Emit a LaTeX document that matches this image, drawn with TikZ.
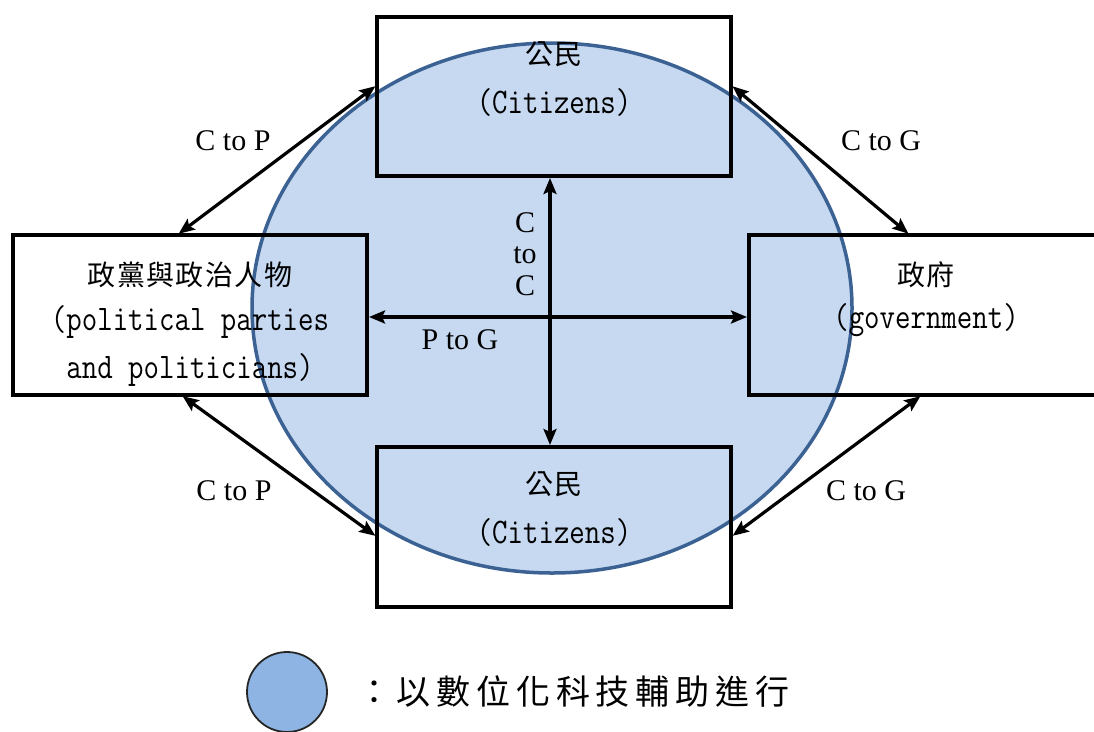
\documentclass[tikz,border=0pt]{standalone}
\usepackage{fontspec}
\usepackage{graphicx}
\setmainfont{Liberation Serif}
\newfontfamily\cjk[LetterSpace=5]{Noto Sans CJK TC}
\newfontfamily\cjkbig[LetterSpace=17]{Noto Sans CJK TC}
\newcommand\tallmono[1]{\scalebox{1}[1.2]{#1}}
\usetikzlibrary{shapes.geometric,arrows.meta,calc}
\definecolor{zonefill}{HTML}{C6D9F1}
\definecolor{zoneline}{HTML}{3C6294}
\definecolor{legfill}{HTML}{8EB4E3}
\definecolor{legline}{HTML}{262626}
\tikzset{
  boxnode/.style={draw=black, line width=4.5pt, minimum width=354pt, minimum height=160pt, inner sep=0pt, outer sep=0pt},
  arr/.style={line width=3.2pt, {Stealth[length=16pt,width=13pt,inset=3pt]}-{Stealth[length=16pt,width=13pt,inset=3pt]}, shorten <=2pt, shorten >=2pt},
  cjklbl/.style={font=\cjk\fontsize{28}{30}\selectfont, inner sep=0pt},
  monolbl/.style={font=\ttfamily\fontsize{30}{32}\selectfont, inner sep=0pt},
  edgelbl/.style={font=\fontsize{30}{32}\selectfont, inner sep=0pt},
}
\begin{document}
\begin{tikzpicture}[x=1pt,y=-1pt]
\useasboundingbox (0,0) rectangle (1094,731);
% digital zone
\node[ellipse, draw=zoneline, fill=zonefill, line width=3.5pt, minimum width=600pt, minimum height=530pt, inner sep=0pt] (zone) at (552,308) {};
% boxes
\node[boxnode, minimum height=159pt] (tbox) at (554,96.5) {};
\node[boxnode] (bbox) at (554,527) {};
\node[boxnode] (lbox) at (190,315) {};
\node[boxnode] (rbox) at (926,315) {};
% box texts
\node[cjklbl] (t1) at (554,54) {公民};
\node[monolbl] (t2) at (554,102) {\tallmono{(Citizens)}};
\node[cjklbl] (b1) at (554,484) {公民};
\node[monolbl] (b2) at (554,532) {\tallmono{(Citizens)}};
\node[cjklbl] (l1) at (190,275) {政黨與政治人物};
\node[monolbl] (l2) at (190,322) {\tallmono{(political parties}};
\node[monolbl] (l3) at (190,370) {\tallmono{and politicians)}};
\node[cjklbl] (r1) at (926,275) {政府};
\node[monolbl] (r2) at (926,320) {\tallmono{(government)}};
% connectors
\draw[arr] ([xshift=164pt]lbox.north west) -- ([yshift=-68pt]tbox.north west);
\draw[arr] ([xshift=168pt]lbox.south west) -- ([yshift=-90pt]bbox.north west);
\draw[arr] ([yshift=-68pt]tbox.north east) -- ([xshift=161pt]rbox.north west);
\draw[arr] ([xshift=173pt]rbox.south west) -- ([yshift=-90pt]bbox.north east);
\draw[arr] ([xshift=-4pt]tbox.south) -- ([xshift=-4pt]bbox.north);
\draw[arr] ([yshift=-2pt]lbox.east) -- ([yshift=-2pt]rbox.west);
% connector labels
\node[edgelbl] (e1) at (233,141) {C to P};
\node[edgelbl] (e2) at (881,141) {C to G};
\node[edgelbl] (e3) at (234,491) {C to P};
\node[edgelbl] (e4) at (866,491) {C to G};
\node[edgelbl, align=center, font=\fontsize{30}{31.5}\selectfont] (e5) at (525,254) {C\\to\\C};
\node[edgelbl] (e6) at (460,340) {P to G};
% legend
\node[circle, draw=legline, fill=legfill, line width=1.8pt, minimum size=80pt, inner sep=0pt] (leg) at (287,692) {};
\node[anchor=west, inner sep=0pt, font=\cjkbig\fontsize{34}{36}\selectfont] (legtxt) at (357,692) {：以數位化科技輔助進行};
\end{tikzpicture}
\end{document}
